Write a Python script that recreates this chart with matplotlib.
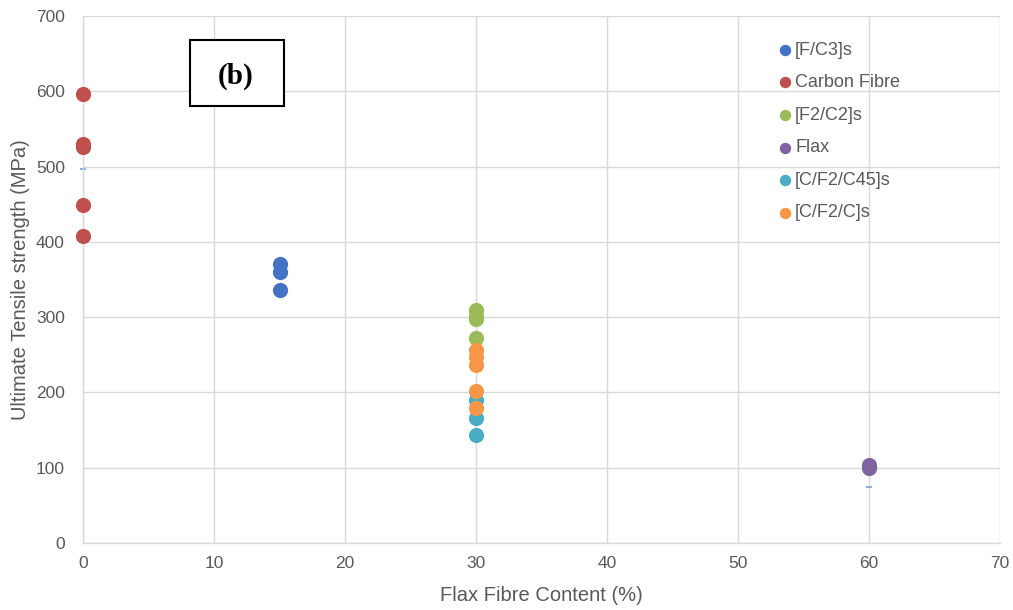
import matplotlib
matplotlib.use('Agg')

import matplotlib.pyplot as plt
from matplotlib.patches import Rectangle

# data
fc3_x = [15, 15, 15]
fc3_y = [370, 360, 336]
carbon_x = [0, 0, 0, 0, 0]
carbon_y = [597, 530, 526, 449, 408]
f2c2_x = [30, 30, 30, 30]
f2c2_y = [309, 302, 297, 272]
flax_x = [60, 60]
flax_y = [104, 99]
cf2c45_x = [30, 30, 30]
cf2c45_y = [190, 166, 144]
cf2c_x = [30, 30, 30, 30, 30]
cf2c_y = [256, 247, 236, 202, 179]
dash_x = [0, 60]
dash_y = [497, 75]

series = [
    ('[F/C3]s', fc3_x, fc3_y, '#4472c4'),
    ('Carbon Fibre', carbon_x, carbon_y, '#c0504d'),
    ('[F2/C2]s', f2c2_x, f2c2_y, '#9bbb59'),
    ('Flax', flax_x, flax_y, '#8064a2'),
    ('[C/F2/C45]s', cf2c45_x, cf2c45_y, '#4bacc6'),
    ('[C/F2/C]s', cf2c_x, cf2c_y, '#f79646'),
]

plt.rcParams['font.family'] = ['Liberation Sans', 'DejaVu Sans']
txt = '#595959'
grid = '#d9d9d9'

fig = plt.figure(figsize=(10.13, 6.10), dpi=100)
ax = fig.add_axes([83 / 1013, 1 - 543 / 610, (1000 - 83) / 1013, (543 - 16) / 610])

for name, xs, ys, c in series:
    ax.scatter(xs, ys, s=120, color=c, label=name, zorder=3, linewidths=0, clip_on=False)

ax.scatter(dash_x, dash_y, marker='_', s=25, color='#8faadc', linewidths=1.5, zorder=2, clip_on=False)

ax.set_xlim(0, 70)
ax.set_ylim(0, 700)
ax.set_xticks(range(0, 71, 10))
ax.set_yticks(range(0, 701, 100))
ax.grid(True, color=grid, linewidth=1)
ax.set_axisbelow(True)
for s in ['top', 'right']:
    ax.spines[s].set_visible(False)
for s in ['left', 'bottom']:
    ax.spines[s].set_color(grid)
    ax.spines[s].set_linewidth(1)
ax.tick_params(length=0, labelsize=12.5, colors=txt)
ax.tick_params(axis='x', pad=9)
ax.tick_params(axis='y', pad=13)
ax.set_xlabel('Flax Fibre Content (%)', fontsize=14.5, color=txt, labelpad=11)
ax.set_ylabel('Ultimate Tensile strength (MPa)', fontsize=14.5, color=txt, labelpad=4)

leg = ax.legend(loc='upper left', bbox_to_anchor=(0.747, 0.965), frameon=False,
                fontsize=13, labelcolor=txt, handletextpad=0.0, labelspacing=0.86,
                handlelength=1.1, markerscale=0.75, borderaxespad=0)

# (b) label box
box = Rectangle((190 / 1013, 1 - 106 / 610), 94 / 1013, 66 / 610,
                transform=fig.transFigure, facecolor='white', edgecolor='black',
                linewidth=1.5, zorder=5)
fig.patches.append(box)
fig.text(236 / 1013, 1 - 76 / 610, '(b)', fontsize=21, fontweight='bold',
         family='Liberation Serif', ha='center', va='center', zorder=6)

fig.savefig('out.png', dpi=100)
